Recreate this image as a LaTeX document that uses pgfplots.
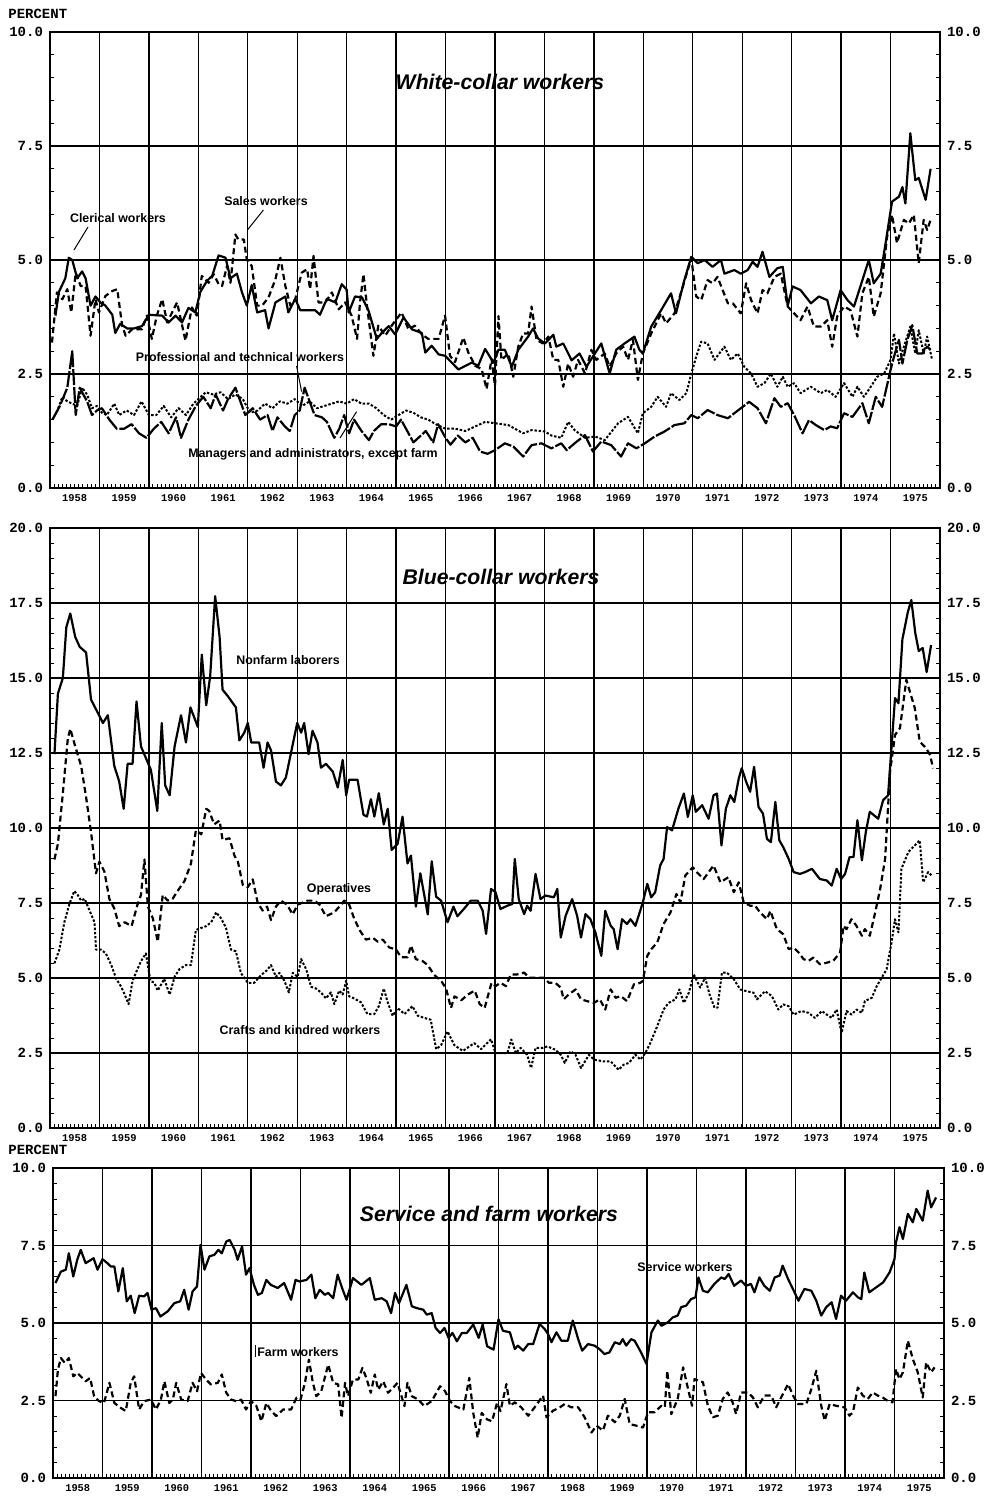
\documentclass[border=0pt]{standalone}
\usepackage{fontspec}
\setmainfont{Liberation Sans}
\setmonofont{Liberation Mono}
\usepackage{pgfplots}
\pgfplotsset{compat=1.18}
\pgfplotsset{
 panel/.style={
  scale only axis, width=445pt, anchor=north west,
  xmin=1958, xmax=1976, ymin=0,
  xtick={1959,1960,...,1975}, xticklabels={},
  minor xtick={1958,1958.0833333,...,1976},
  extra x ticks={1958.5,1959.5,1960.5,1961.5,1962.5,1963.5,1964.5,1965.5,1966.5,1967.5,1968.5,1969.5,1970.5,1971.5,1972.5,1973.5,1974.5,1975.5},
  extra x tick labels={1958,1959,1960,1961,1962,1963,1964,1965,1966,1967,1968,1969,1970,1971,1972,1973,1974,1975},
  extra x tick style={grid=none, major tick length=0pt, tick label style={font=\ttfamily\bfseries\fontsize{5.2}{6}\selectfont, yshift=0.5pt}},
  xmajorgrids, ymajorgrids,
  major grid style={line width=0.7pt, black},
  major tick length=0pt, minor tick length=2.2pt,
  minor tick style={line width=0.5pt, black},
  minor y tick num=4,
  xtick pos=left, ytick pos=left, tick align=inside,
  axis line style={line width=1pt},
  yticklabel style={font=\ttfamily\bfseries\fontsize{7}{8}\selectfont},
 },
 rpanel/.style={
  scale only axis, width=445pt, anchor=north west,
  xmin=1958, xmax=1976, ymin=0,
  hide x axis, axis y line*=right,
  major tick length=0pt, minor tick length=2.2pt,
  minor tick style={line width=0.5pt, black},
  minor y tick num=4, tick align=inside,
  axis line style={-, line width=1pt},
  yticklabel style={font=\ttfamily\bfseries\fontsize{7}{8}\selectfont},
 },
 sol/.style={black, line width=1.1pt, line join=round},
 dsh/.style={black, line width=1.1pt, dash pattern=on 3pt off 1.8pt, line join=round},
 dot/.style={black, line width=1pt, dash pattern=on 1.2pt off 0.9pt, line join=round},
 lds/.style={black, line width=1.1pt, dash pattern=on 8pt off 1pt, line join=round},
}
\begin{document}
\begin{tikzpicture}
\useasboundingbox (0pt,0pt) rectangle (494.5pt,-748pt);
% ---------------- Panel 1: White-collar ----------------
\begin{axis}[panel, at={(25pt,-16pt)}, height=228pt, ymax=10,
  ytick={0,2.5,5,7.5,10}, yticklabels={0.0,2.5,5.0,7.5,10.0}]
% Clerical
\addplot[sol] coordinates {(1958.11,3.78)(1958.18,4.3)(1958.31,4.6)(1958.38,5.05)(1958.45,5.0)(1958.55,4.6)(1958.65,4.75)(1958.72,4.6)(1958.82,4.0)(1958.92,4.2)(1959.02,4.07)(1959.12,4.0)(1959.26,3.8)(1959.32,3.4)(1959.42,3.6)(1959.56,3.5)(1959.7,3.5)(1959.86,3.55)(1960.0,3.8)(1960.27,3.78)(1960.40,3.63)(1960.54,3.78)(1960.67,3.63)(1960.80,3.95)(1960.94,3.85)(1961.04,4.3)(1961.18,4.55)(1961.28,4.65)(1961.41,5.1)(1961.55,5.05)(1961.65,4.6)(1961.78,4.7)(1961.88,4.3)(1961.98,4.0)(1962.08,4.45)(1962.19,3.85)(1962.35,3.9)(1962.42,3.5)(1962.56,4.07)(1962.76,4.2)(1962.82,3.85)(1962.96,4.15)(1963.06,3.9)(1963.2,3.9)(1963.36,3.9)(1963.46,3.8)(1963.60,4.15)(1963.77,4.07)(1963.90,4.47)(1964.00,4.35)(1964.04,3.85)(1964.17,4.2)(1964.31,4.18)(1964.44,3.9)(1964.61,3.27)(1964.71,3.4)(1964.85,3.55)(1964.98,3.37)(1965.15,3.74)(1965.32,3.48)(1965.52,3.4)(1965.59,2.97)(1965.72,3.12)(1965.86,2.93)(1965.99,2.9)(1966.26,2.6)(1966.53,2.75)(1966.66,2.68)(1966.80,3.05)(1966.97,2.75)(1967.07,3.03)(1967.2,3.03)(1967.34,2.66)(1967.47,3.03)(1967.67,3.32)(1967.77,3.5)(1967.87,3.28)(1968.01,3.17)(1968.18,3.36)(1968.24,3.1)(1968.38,3.17)(1968.55,2.8)(1968.71,2.95)(1968.85,2.66)(1969.02,2.95)(1969.15,3.17)(1969.32,2.51)(1969.45,3.03)(1969.62,3.17)(1969.82,3.32)(1969.92,3.03)(1969.99,2.95)(1970.16,3.54)(1970.36,3.9)(1970.56,4.27)(1970.66,3.83)(1970.83,4.56)(1970.97,5.07)(1971.10,4.93)(1971.24,5.0)(1971.40,4.85)(1971.57,5.0)(1971.64,4.7)(1971.84,4.78)(1971.97,4.7)(1972.11,4.78)(1972.21,4.96)(1972.31,4.85)(1972.41,5.18)(1972.55,4.63)(1972.71,4.82)(1972.82,4.85)(1972.92,4.0)(1973.02,4.42)(1973.18,4.34)(1973.39,4.05)(1973.55,4.2)(1973.72,4.12)(1973.82,3.68)(1973.99,4.34)(1974.13,4.12)(1974.26,3.98)(1974.39,4.42)(1974.56,5.0)(1974.66,4.49)(1974.80,4.7)(1974.90,5.37)(1975.03,6.28)(1975.17,6.39)(1975.24,6.6)(1975.30,6.24)(1975.40,7.78)(1975.50,6.75)(1975.57,6.8)(1975.71,6.32)(1975.81,7.0)};
% Sales
\addplot[dsh] coordinates {(1958.04,3.19)(1958.14,4.29)(1958.25,4.14)(1958.35,4.36)(1958.43,3.85)(1958.52,4.72)(1958.62,4.43)(1958.72,4.43)(1958.82,3.34)(1958.92,4.14)(1958.99,3.85)(1959.12,4.21)(1959.26,4.32)(1959.36,4.36)(1959.46,3.56)(1959.53,3.34)(1959.66,3.48)(1959.86,3.48)(1959.96,3.78)(1960.06,3.27)(1960.16,3.78)(1960.27,4.14)(1960.37,3.63)(1960.57,4.07)(1960.74,3.23)(1960.87,3.96)(1960.97,3.78)(1961.07,4.65)(1961.21,4.5)(1961.31,4.69)(1961.41,4.47)(1961.48,4.43)(1961.58,4.87)(1961.65,4.5)(1961.75,5.56)(1961.81,5.45)(1961.92,5.45)(1961.98,5.01)(1962.08,4.87)(1962.19,4.0)(1962.29,4.0)(1962.42,4.18)(1962.56,4.58)(1962.66,5.05)(1962.76,4.43)(1962.86,4.0)(1962.96,4.14)(1963.09,4.72)(1963.20,4.8)(1963.26,4.36)(1963.33,5.09)(1963.43,4.07)(1963.57,4.07)(1963.70,4.29)(1963.84,3.92)(1963.97,4.07)(1964.10,3.78)(1964.21,3.27)(1964.27,4.07)(1964.34,4.69)(1964.41,4.0)(1964.54,2.9)(1964.64,3.56)(1964.78,3.34)(1964.91,3.56)(1965.11,3.85)(1965.25,3.48)(1965.38,3.56)(1965.52,3.37)(1965.65,3.27)(1965.86,3.27)(1965.99,3.78)(1966.09,2.9)(1966.19,2.76)(1966.36,3.3)(1966.46,2.97)(1966.60,2.68)(1966.73,2.61)(1966.83,2.17)(1966.93,2.83)(1967.0,2.24)(1967.07,3.77)(1967.13,2.81)(1967.27,2.95)(1967.37,2.44)(1967.47,3.1)(1967.57,3.39)(1967.67,3.39)(1967.74,3.98)(1967.84,3.25)(1967.97,3.17)(1968.08,3.32)(1968.18,2.81)(1968.28,2.81)(1968.38,2.22)(1968.48,2.73)(1968.58,2.44)(1968.68,2.81)(1968.82,2.51)(1968.95,3.03)(1969.05,2.81)(1969.22,2.95)(1969.32,2.66)(1969.45,2.95)(1969.59,3.1)(1969.69,2.81)(1969.79,3.25)(1969.89,2.37)(1969.99,2.95)(1970.16,3.39)(1970.36,3.83)(1970.46,3.61)(1970.63,3.83)(1970.80,4.42)(1970.97,5.04)(1971.07,4.2)(1971.17,4.12)(1971.30,4.56)(1971.40,4.49)(1971.50,4.63)(1971.71,4.05)(1971.81,4.05)(1971.97,3.83)(1972.08,4.49)(1972.18,4.12)(1972.31,3.83)(1972.41,4.34)(1972.51,4.27)(1972.65,4.63)(1972.78,4.7)(1972.92,3.98)(1973.05,3.83)(1973.18,3.68)(1973.32,3.98)(1973.45,3.54)(1973.59,3.54)(1973.72,3.68)(1973.82,3.1)(1973.92,3.76)(1974.06,3.98)(1974.19,3.9)(1974.33,3.32)(1974.43,4.27)(1974.56,4.63)(1974.66,3.76)(1974.80,4.27)(1974.93,5.51)(1975.03,5.99)(1975.13,5.37)(1975.27,5.88)(1975.37,5.8)(1975.47,5.99)(1975.57,4.93)(1975.67,5.88)(1975.74,5.66)(1975.81,5.88)};
% Professional and technical
\addplot[dot] coordinates {(1958.05,1.5)(1958.15,1.7)(1958.25,2.0)(1958.35,1.9)(1958.55,1.8)(1958.65,2.2)(1958.75,2.05)(1958.85,1.75)(1958.95,1.8)(1959.05,1.65)(1959.15,1.6)(1959.3,1.85)(1959.4,1.6)(1959.55,1.7)(1959.7,1.6)(1959.85,1.9)(1960.0,1.6)(1960.15,1.6)(1960.3,1.8)(1960.45,1.55)(1960.6,1.75)(1960.75,1.6)(1960.9,1.85)(1961.0,1.95)(1961.15,2.1)(1961.3,2.05)(1961.45,2.1)(1961.6,1.95)(1961.75,2.05)(1961.9,1.95)(1962.05,1.65)(1962.2,1.7)(1962.35,1.85)(1962.5,1.75)(1962.65,1.9)(1962.8,1.85)(1962.95,1.95)(1963.1,1.8)(1963.25,1.9)(1963.4,1.75)(1963.55,1.8)(1963.7,1.85)(1963.85,1.9)(1964.0,1.85)(1964.15,1.95)(1964.3,1.85)(1964.45,1.85)(1964.6,1.75)(1964.75,1.6)(1964.9,1.5)(1965.05,1.6)(1965.2,1.7)(1965.35,1.65)(1965.5,1.55)(1965.65,1.5)(1965.8,1.4)(1966.0,1.3)(1966.2,1.3)(1966.4,1.25)(1966.6,1.35)(1966.8,1.45)(1967.0,1.42)(1967.27,1.38)(1967.57,1.2)(1967.74,1.27)(1968.01,1.24)(1968.14,1.15)(1968.34,1.1)(1968.48,1.45)(1968.61,1.27)(1968.82,1.1)(1969.02,1.13)(1969.22,1.05)(1969.49,1.42)(1969.69,1.56)(1969.89,1.2)(1969.99,1.64)(1970.16,1.78)(1970.29,2.0)(1970.46,1.78)(1970.56,2.08)(1970.73,1.93)(1970.87,2.08)(1970.97,2.51)(1971.07,2.88)(1971.17,3.21)(1971.30,3.17)(1971.44,2.81)(1971.64,3.1)(1971.77,2.81)(1971.91,2.95)(1972.04,2.66)(1972.18,2.51)(1972.31,2.22)(1972.45,2.3)(1972.58,2.51)(1972.71,2.22)(1972.82,2.44)(1972.92,2.22)(1973.05,2.3)(1973.18,2.08)(1973.39,2.22)(1973.59,2.08)(1973.72,2.15)(1973.89,2.0)(1974.06,2.3)(1974.23,2.0)(1974.33,2.22)(1974.46,2.0)(1974.60,2.22)(1974.73,2.44)(1974.87,2.51)(1975.0,2.81)(1975.07,3.39)(1975.17,2.73)(1975.27,3.1)(1975.40,3.54)(1975.50,2.95)(1975.57,3.46)(1975.67,2.95)(1975.74,3.32)(1975.84,2.81)};
% Managers and administrators
\addplot[lds] coordinates {(1958.05,1.5)(1958.2,1.8)(1958.35,2.2)(1958.45,3.0)(1958.52,1.6)(1958.6,2.2)(1958.75,1.9)(1958.85,1.6)(1958.95,1.7)(1959.05,1.75)(1959.2,1.5)(1959.35,1.3)(1959.5,1.3)(1959.65,1.4)(1959.8,1.2)(1959.95,1.1)(1960.1,1.3)(1960.25,1.45)(1960.4,1.2)(1960.55,1.55)(1960.65,1.1)(1960.8,1.5)(1960.95,1.8)(1961.1,2.0)(1961.25,1.75)(1961.35,2.05)(1961.5,1.7)(1961.6,1.95)(1961.75,2.2)(1961.85,1.9)(1961.95,1.6)(1962.1,1.75)(1962.25,1.5)(1962.4,1.6)(1962.5,1.25)(1962.6,1.55)(1962.75,1.35)(1962.85,1.25)(1962.95,1.6)(1963.05,1.7)(1963.15,2.2)(1963.25,1.9)(1963.35,1.6)(1963.5,1.55)(1963.6,1.45)(1963.75,1.1)(1963.85,1.3)(1963.95,1.6)(1964.05,1.2)(1964.15,1.5)(1964.3,1.25)(1964.45,1.05)(1964.55,1.25)(1964.7,1.4)(1964.85,1.4)(1965.0,1.35)(1965.1,1.5)(1965.2,1.3)(1965.35,1.0)(1965.5,1.15)(1965.6,1.25)(1965.75,1.0)(1965.85,1.4)(1966.0,1.1)(1966.1,0.95)(1966.25,1.15)(1966.4,1.0)(1966.55,1.1)(1966.7,0.8)(1966.85,0.75)(1967.0,0.83)(1967.2,0.98)(1967.37,0.91)(1967.57,0.69)(1967.74,0.94)(1967.94,0.98)(1968.14,0.87)(1968.34,0.98)(1968.45,0.83)(1968.61,0.98)(1968.82,1.16)(1968.98,0.8)(1969.15,1.02)(1969.35,0.94)(1969.55,0.69)(1969.69,0.98)(1969.86,0.87)(1970.03,0.98)(1970.23,1.13)(1970.43,1.24)(1970.63,1.38)(1970.83,1.42)(1970.97,1.6)(1971.10,1.53)(1971.30,1.71)(1971.50,1.6)(1971.71,1.53)(1971.84,1.64)(1972.01,1.78)(1972.14,1.89)(1972.31,1.75)(1972.48,1.42)(1972.65,1.97)(1972.78,1.78)(1972.92,1.86)(1973.05,1.6)(1973.22,1.2)(1973.35,1.49)(1973.49,1.38)(1973.66,1.27)(1973.79,1.35)(1973.92,1.31)(1974.06,1.64)(1974.23,1.56)(1974.33,1.71)(1974.43,1.86)(1974.56,1.42)(1974.70,2.0)(1974.83,1.78)(1975.0,2.59)(1975.07,2.88)(1975.17,3.25)(1975.24,2.73)(1975.34,3.25)(1975.44,3.57)(1975.54,2.95)(1975.64,2.95)(1975.74,3.1)(1975.81,3.03)};
\end{axis}
\begin{axis}[rpanel, at={(25pt,-16pt)}, height=228pt, ymax=10,
  ytick={0,2.5,5,7.5,10}, yticklabels={0.0,2.5,5.0,7.5,10.0}]
\end{axis}
% ---------------- Panel 2: Blue-collar ----------------
\begin{axis}[panel, at={(25pt,-264pt)}, height=300pt, ymax=20,
  ytick={0,2.5,...,20}, yticklabels={0.0,2.5,5.0,7.5,10.0,12.5,15.0,17.5,20.0}]
% Nonfarm laborers
\addplot[sol] coordinates {(1958.09,12.46)(1958.16,14.48)(1958.26,15.0)(1958.33,16.69)(1958.41,17.15)(1958.51,16.37)(1958.60,16.04)(1958.73,15.85)(1958.83,14.28)(1958.97,13.83)(1959.07,13.5)(1959.17,13.76)(1959.30,12.07)(1959.40,11.55)(1959.49,10.64)(1959.57,12.14)(1959.67,12.14)(1959.75,14.22)(1959.84,12.72)(1959.94,12.33)(1960.04,11.94)(1960.17,10.57)(1960.26,13.5)(1960.33,11.42)(1960.42,11.09)(1960.52,12.72)(1960.65,13.76)(1960.75,12.85)(1960.84,14.02)(1960.99,13.37)(1961.07,15.78)(1961.16,14.09)(1961.24,15.07)(1961.34,17.73)(1961.43,16.37)(1961.49,14.61)(1961.59,14.41)(1961.76,14.02)(1961.83,12.92)(1961.93,13.18)(1962.00,13.5)(1962.07,12.85)(1962.23,12.85)(1962.32,12.01)(1962.40,12.85)(1962.47,12.59)(1962.57,11.55)(1962.67,11.42)(1962.77,11.68)(1962.91,12.79)(1963.00,13.5)(1963.08,13.18)(1963.14,13.5)(1963.23,12.46)(1963.31,13.24)(1963.41,12.85)(1963.48,12.01)(1963.58,12.14)(1963.72,11.88)(1963.82,11.35)(1963.92,12.27)(1963.99,11.09)(1964.05,11.61)(1964.22,11.61)(1964.34,10.44)(1964.41,10.38)(1964.49,10.96)(1964.56,10.38)(1964.65,11.16)(1964.75,10.12)(1964.83,10.64)(1964.91,9.27)(1965.03,9.47)(1965.13,10.38)(1965.23,8.82)(1965.30,9.08)(1965.40,7.38)(1965.49,8.49)(1965.64,7.12)(1965.72,8.89)(1965.81,7.71)(1965.91,7.58)(1966.04,6.86)(1966.16,7.38)(1966.24,7.06)(1966.38,7.32)(1966.51,7.58)(1966.65,7.58)(1966.75,7.25)(1966.82,6.47)(1966.92,7.97)(1967.01,7.86)(1967.11,7.3)(1967.25,7.41)(1967.35,7.47)(1967.40,8.97)(1967.48,7.63)(1967.59,7.13)(1967.65,7.41)(1967.72,7.24)(1967.82,8.47)(1967.92,7.63)(1968.02,7.75)(1968.19,7.69)(1968.26,7.97)(1968.33,6.35)(1968.43,7.08)(1968.56,7.63)(1968.66,7.08)(1968.74,6.35)(1968.83,7.13)(1968.93,6.96)(1969.03,6.52)(1969.15,5.74)(1969.23,7.24)(1969.34,6.74)(1969.40,6.63)(1969.48,5.96)(1969.57,6.96)(1969.67,6.8)(1969.74,6.96)(1969.84,6.74)(1969.99,7.52)(1970.08,8.14)(1970.16,7.69)(1970.24,7.86)(1970.34,8.75)(1970.41,8.97)(1970.48,10.03)(1970.58,9.92)(1970.71,10.65)(1970.82,11.15)(1970.90,10.37)(1971.00,11.09)(1971.06,10.54)(1971.19,10.76)(1971.32,10.31)(1971.42,11.09)(1971.49,11.15)(1971.58,9.42)(1971.67,10.65)(1971.76,11.09)(1971.84,10.87)(1971.93,11.65)(1971.99,11.99)(1972.08,11.54)(1972.16,11.21)(1972.24,12.04)(1972.33,10.7)(1972.42,10.48)(1972.50,9.64)(1972.58,9.53)(1972.67,10.87)(1972.75,9.59)(1972.83,9.36)(1972.94,8.97)(1973.04,8.53)(1973.17,8.47)(1973.27,8.53)(1973.41,8.64)(1973.57,8.3)(1973.71,8.25)(1973.81,8.08)(1973.91,8.64)(1974.00,8.3)(1974.08,8.47)(1974.17,9.03)(1974.25,9.03)(1974.33,10.26)(1974.42,8.92)(1974.50,9.87)(1974.58,10.54)(1974.75,10.31)(1974.85,10.93)(1974.95,11.09)(1975.09,14.33)(1975.16,14.16)(1975.24,16.3)(1975.35,17.2)(1975.42,17.6)(1975.50,16.5)(1975.57,15.9)(1975.65,16.0)(1975.73,15.2)(1975.82,16.1)};
% Operatives
\addplot[dsh] coordinates {(1958.09,8.95)(1958.16,9.47)(1958.26,11.16)(1958.36,12.98)(1958.41,13.31)(1958.51,12.72)(1958.63,12.07)(1958.73,11.03)(1958.83,9.86)(1958.93,8.49)(1959.0,8.88)(1959.10,8.55)(1959.20,7.64)(1959.30,7.32)(1959.40,6.73)(1959.51,6.86)(1959.65,6.73)(1959.77,7.45)(1959.84,7.77)(1959.91,8.95)(1959.98,7.38)(1960.08,6.99)(1960.18,6.21)(1960.28,7.77)(1960.38,7.58)(1960.48,7.64)(1960.58,7.9)(1960.72,8.23)(1960.85,8.81)(1960.95,9.92)(1961.06,9.79)(1961.16,10.64)(1961.22,10.57)(1961.32,10.12)(1961.43,10.25)(1961.49,9.6)(1961.63,9.66)(1961.73,9.08)(1961.80,8.88)(1961.90,8.1)(1962.0,8.03)(1962.10,8.29)(1962.20,7.51)(1962.30,7.25)(1962.39,7.38)(1962.47,6.93)(1962.57,7.38)(1962.67,7.58)(1962.79,7.45)(1962.91,7.12)(1963.01,7.45)(1963.11,7.51)(1963.21,7.58)(1963.35,7.58)(1963.45,7.45)(1963.58,7.06)(1963.75,7.19)(1963.89,7.45)(1963.95,7.58)(1964.05,7.45)(1964.15,6.99)(1964.26,6.6)(1964.39,6.28)(1964.53,6.34)(1964.63,6.21)(1964.73,6.28)(1964.86,6.02)(1965.0,5.95)(1965.10,5.69)(1965.23,5.69)(1965.30,6.08)(1965.40,5.63)(1965.54,5.56)(1965.64,5.43)(1965.77,5.1)(1965.91,4.91)(1966.01,4.65)(1966.11,4.0)(1966.18,4.39)(1966.32,4.26)(1966.45,4.45)(1966.59,4.58)(1966.69,4.13)(1966.79,4.0)(1966.93,4.84)(1967.01,4.73)(1967.11,4.84)(1967.22,4.73)(1967.32,5.12)(1967.45,5.12)(1967.59,5.18)(1967.69,5.01)(1967.85,5.01)(1967.99,5.01)(1968.09,4.84)(1968.22,4.84)(1968.33,4.68)(1968.39,4.29)(1968.49,4.45)(1968.63,4.62)(1968.74,4.29)(1968.86,4.23)(1969.0,4.17)(1969.12,4.29)(1969.23,3.95)(1969.34,4.62)(1969.44,4.34)(1969.54,4.4)(1969.67,4.23)(1969.81,4.79)(1969.94,4.84)(1969.99,4.9)(1970.08,5.74)(1970.16,5.96)(1970.28,6.18)(1970.41,6.8)(1970.55,7.19)(1970.67,7.8)(1970.75,7.52)(1970.85,8.42)(1971.0,8.69)(1971.08,8.53)(1971.22,8.3)(1971.42,8.75)(1971.56,8.19)(1971.72,8.36)(1971.83,7.86)(1971.93,8.19)(1972.03,7.52)(1972.16,7.41)(1972.26,7.41)(1972.36,7.19)(1972.50,6.96)(1972.57,7.24)(1972.70,6.63)(1972.83,6.46)(1972.94,5.96)(1973.04,6.02)(1973.14,5.85)(1973.24,5.63)(1973.34,5.57)(1973.44,5.68)(1973.57,5.46)(1973.71,5.51)(1973.84,5.57)(1973.98,5.85)(1974.05,6.74)(1974.11,6.63)(1974.21,6.96)(1974.31,6.74)(1974.42,6.41)(1974.48,6.63)(1974.58,6.41)(1974.69,7.19)(1974.79,7.97)(1974.89,8.97)(1974.99,11.88)(1975.09,13.1)(1975.19,13.33)(1975.32,14.94)(1975.39,14.55)(1975.49,14.0)(1975.59,12.88)(1975.72,12.66)(1975.80,12.43)(1975.86,11.99)};
% Crafts and kindred
\addplot[dot] coordinates {(1958.09,5.49)(1958.19,5.95)(1958.29,6.86)(1958.39,7.45)(1958.49,7.9)(1958.56,7.77)(1958.63,7.58)(1958.70,7.64)(1958.80,7.25)(1958.90,6.86)(1958.93,5.95)(1959.03,5.95)(1959.13,5.82)(1959.24,5.43)(1959.34,4.97)(1959.44,4.71)(1959.51,4.45)(1959.59,4.13)(1959.67,4.91)(1959.77,5.3)(1959.84,5.56)(1959.94,5.82)(1960.03,4.91)(1960.11,4.84)(1960.18,4.58)(1960.31,4.97)(1960.42,4.45)(1960.52,5.04)(1960.62,5.3)(1960.75,5.43)(1960.85,5.43)(1960.95,6.6)(1961.06,6.67)(1961.16,6.73)(1961.26,6.86)(1961.36,7.19)(1961.46,6.99)(1961.56,6.67)(1961.66,5.95)(1961.76,5.89)(1961.86,5.17)(1962.0,4.84)(1962.13,4.84)(1962.27,5.1)(1962.37,5.23)(1962.47,5.43)(1962.57,5.04)(1962.64,5.17)(1962.74,4.91)(1962.83,4.52)(1962.91,5.17)(1963.01,5.04)(1963.08,5.63)(1963.18,5.3)(1963.28,4.71)(1963.38,4.65)(1963.48,4.52)(1963.58,4.32)(1963.68,4.52)(1963.75,4.13)(1963.85,4.58)(1963.92,4.45)(1963.99,4.91)(1964.05,4.39)(1964.15,4.32)(1964.29,4.19)(1964.42,3.8)(1964.56,3.8)(1964.65,4.06)(1964.75,4.65)(1964.83,4.19)(1964.93,3.74)(1965.03,4.0)(1965.17,3.8)(1965.33,4.06)(1965.44,3.74)(1965.57,3.67)(1965.70,3.61)(1965.81,2.63)(1965.91,2.76)(1966.04,3.22)(1966.18,2.76)(1966.35,2.57)(1966.58,2.83)(1966.72,2.63)(1966.92,2.96)(1967.01,2.5)(1967.11,2.5)(1967.25,2.5)(1967.33,2.95)(1967.42,2.5)(1967.52,2.67)(1967.65,2.44)(1967.73,2.0)(1967.82,2.67)(1967.96,2.67)(1968.06,2.72)(1968.22,2.61)(1968.33,2.44)(1968.41,2.17)(1968.53,2.56)(1968.63,2.44)(1968.74,2.0)(1968.90,2.44)(1969.0,2.28)(1969.20,2.22)(1969.34,2.22)(1969.50,1.94)(1969.60,2.11)(1969.71,2.17)(1969.84,2.44)(1969.94,2.28)(1970.04,2.5)(1970.14,2.83)(1970.28,3.39)(1970.41,3.95)(1970.51,4.17)(1970.65,4.29)(1970.73,4.62)(1970.82,4.17)(1970.92,4.51)(1971.02,5.12)(1971.15,4.68)(1971.25,5.01)(1971.34,4.45)(1971.44,4.01)(1971.50,4.01)(1971.59,5.18)(1971.69,5.18)(1971.83,4.96)(1971.96,4.62)(1972.09,4.56)(1972.23,4.51)(1972.30,4.29)(1972.46,4.56)(1972.60,4.4)(1972.73,3.95)(1972.83,4.12)(1972.94,4.06)(1973.04,3.78)(1973.20,3.9)(1973.34,3.84)(1973.47,3.67)(1973.61,3.9)(1973.71,3.78)(1973.81,3.67)(1973.91,3.95)(1974.01,3.17)(1974.11,3.9)(1974.21,3.78)(1974.31,3.95)(1974.42,3.84)(1974.48,4.23)(1974.62,4.34)(1974.72,4.73)(1974.82,5.01)(1974.92,5.29)(1975.02,6.18)(1975.09,6.96)(1975.16,6.52)(1975.22,8.64)(1975.36,9.2)(1975.49,9.42)(1975.59,9.59)(1975.66,8.19)(1975.76,8.53)(1975.83,8.42)};
\end{axis}
\begin{axis}[rpanel, at={(25pt,-264pt)}, height=300pt, ymax=20,
  ytick={0,2.5,...,20}, yticklabels={0.0,2.5,5.0,7.5,10.0,12.5,15.0,17.5,20.0}]
\end{axis}
% ---------------- Panel 3: Service and farm ----------------
\begin{axis}[panel, at={(26.5pt,-584pt)}, width=445.5pt, height=155pt, ymax=10,
  ytick={0,2.5,5,7.5,10}, yticklabels={0.0,2.5,5.0,7.5,10.0}]
% Service workers
\addplot[sol] coordinates {(1958.05,6.29)(1958.16,6.66)(1958.26,6.72)(1958.32,7.25)(1958.41,6.5)(1958.49,7.04)(1958.56,7.36)(1958.66,6.93)(1958.82,7.09)(1958.90,6.72)(1959.0,7.06)(1959.10,6.93)(1959.17,6.82)(1959.24,6.82)(1959.32,6.02)(1959.41,6.77)(1959.49,5.7)(1959.57,5.88)(1959.65,5.32)(1959.74,5.88)(1959.84,5.86)(1959.91,5.97)(1959.99,5.43)(1960.08,5.48)(1960.17,5.21)(1960.32,5.38)(1960.45,5.64)(1960.57,5.7)(1960.65,6.07)(1960.74,5.43)(1960.82,6.02)(1960.91,6.18)(1960.98,7.52)(1961.06,6.72)(1961.16,7.15)(1961.26,7.2)(1961.34,7.36)(1961.41,7.25)(1961.50,7.63)(1961.57,7.68)(1961.67,7.36)(1961.73,7.04)(1961.82,7.47)(1961.90,6.56)(1961.97,6.77)(1962.06,6.23)(1962.14,5.91)(1962.22,5.97)(1962.31,6.39)(1962.40,6.23)(1962.54,6.13)(1962.67,6.29)(1962.81,5.75)(1962.90,6.39)(1962.98,6.34)(1963.12,6.39)(1963.22,6.56)(1963.30,5.8)(1963.39,6.07)(1963.49,5.91)(1963.56,5.97)(1963.66,5.8)(1963.75,6.56)(1963.84,6.13)(1963.93,5.75)(1964.06,6.45)(1964.23,6.23)(1964.40,6.45)(1964.50,5.75)(1964.64,5.8)(1964.74,5.7)(1964.83,5.32)(1964.91,5.97)(1964.99,5.64)(1965.14,6.23)(1965.25,5.54)(1965.35,5.48)(1965.48,5.43)(1965.55,5.27)(1965.65,5.32)(1965.73,4.84)(1965.82,4.68)(1965.91,4.84)(1965.99,4.52)(1966.07,4.68)(1966.16,4.41)(1966.26,4.68)(1966.36,4.68)(1966.49,4.95)(1966.60,4.52)(1966.68,4.95)(1966.77,4.25)(1966.90,4.14)(1967.0,5.12)(1967.09,4.75)(1967.23,4.7)(1967.33,4.16)(1967.39,4.27)(1967.50,4.11)(1967.60,4.32)(1967.70,4.32)(1967.83,4.97)(1967.93,4.81)(1968.0,4.65)(1968.07,4.38)(1968.17,4.7)(1968.27,4.43)(1968.40,4.43)(1968.50,5.08)(1968.61,4.48)(1968.69,4.11)(1968.81,4.32)(1968.94,4.27)(1969.04,4.16)(1969.14,4.0)(1969.24,4.05)(1969.35,4.38)(1969.45,4.32)(1969.51,4.48)(1969.58,4.27)(1969.68,4.48)(1969.75,4.43)(1969.88,4.05)(1969.99,3.68)(1970.09,4.7)(1970.22,5.08)(1970.29,4.91)(1970.42,5.02)(1970.52,5.18)(1970.62,5.24)(1970.69,5.51)(1970.79,5.56)(1970.89,5.77)(1970.98,5.83)(1971.04,6.47)(1971.13,6.04)(1971.23,5.99)(1971.36,6.26)(1971.50,6.47)(1971.57,6.42)(1971.65,6.58)(1971.76,6.2)(1971.90,6.37)(1972.0,6.2)(1972.10,6.26)(1972.17,5.99)(1972.27,6.47)(1972.37,6.2)(1972.48,6.04)(1972.58,6.47)(1972.68,6.53)(1972.74,6.85)(1972.85,6.42)(1972.98,5.99)(1973.06,5.72)(1973.18,6.1)(1973.32,6.04)(1973.42,5.72)(1973.52,5.24)(1973.62,5.51)(1973.73,5.67)(1973.82,5.13)(1973.92,5.88)(1974.02,5.72)(1974.16,5.99)(1974.26,5.83)(1974.33,5.77)(1974.39,6.63)(1974.49,5.99)(1974.63,6.15)(1974.77,6.31)(1974.90,6.63)(1975.0,7.06)(1975.03,7.6)(1975.10,8.09)(1975.17,7.71)(1975.27,8.52)(1975.37,8.25)(1975.44,8.68)(1975.57,8.3)(1975.67,9.27)(1975.74,8.73)(1975.84,9.05)};
% Farm workers
\addplot[dsh] coordinates {(1958.05,2.64)(1958.10,3.5)(1958.16,3.87)(1958.24,3.71)(1958.32,3.87)(1958.41,3.28)(1958.49,3.39)(1958.59,3.23)(1958.66,3.12)(1958.75,3.23)(1958.83,2.64)(1958.93,2.48)(1959.03,2.42)(1959.14,3.07)(1959.24,2.42)(1959.37,2.26)(1959.47,2.16)(1959.57,3.07)(1959.64,3.28)(1959.74,2.21)(1959.84,2.48)(1959.98,2.53)(1960.08,2.21)(1960.18,2.53)(1960.25,3.12)(1960.35,2.42)(1960.42,2.53)(1960.49,3.07)(1960.59,2.53)(1960.72,2.48)(1960.82,3.07)(1960.91,2.8)(1960.99,3.39)(1961.09,3.18)(1961.19,3.02)(1961.33,3.07)(1961.41,3.34)(1961.50,2.75)(1961.60,2.53)(1961.70,2.48)(1961.80,2.53)(1961.90,2.21)(1962.0,2.48)(1962.11,2.32)(1962.21,1.83)(1962.31,2.42)(1962.41,2.16)(1962.51,2.0)(1962.65,2.21)(1962.81,2.21)(1962.92,2.59)(1963.0,2.53)(1963.09,3.07)(1963.17,3.82)(1963.25,3.07)(1963.32,2.64)(1963.42,2.8)(1963.56,3.66)(1963.66,3.07)(1963.76,3.02)(1963.83,1.94)(1963.90,3.07)(1963.96,2.64)(1964.06,3.18)(1964.17,3.18)(1964.25,3.55)(1964.33,3.23)(1964.42,2.75)(1964.50,3.34)(1964.57,2.85)(1964.67,3.12)(1964.77,2.75)(1964.87,2.91)(1964.96,3.07)(1965.04,2.64)(1965.10,2.32)(1965.16,3.07)(1965.25,2.64)(1965.38,2.53)(1965.50,2.32)(1965.65,2.48)(1965.82,2.96)(1965.92,2.8)(1966.02,2.48)(1966.12,2.32)(1966.29,2.21)(1966.41,3.23)(1966.49,2.1)(1966.58,1.3)(1966.66,2.1)(1966.77,1.89)(1966.87,1.83)(1966.97,2.42)(1967.04,2.16)(1967.16,3.03)(1967.23,2.33)(1967.33,2.44)(1967.46,2.28)(1967.60,2.01)(1967.73,2.28)(1967.90,2.66)(1967.97,1.96)(1968.10,2.17)(1968.24,2.28)(1968.34,2.39)(1968.47,2.28)(1968.61,2.28)(1968.74,1.96)(1968.88,1.47)(1968.98,1.69)(1969.11,1.53)(1969.21,2.01)(1969.35,1.8)(1969.45,2.01)(1969.55,2.55)(1969.65,1.74)(1969.78,1.69)(1969.92,1.63)(1970.02,2.12)(1970.15,2.12)(1970.29,2.33)(1970.36,2.28)(1970.41,3.46)(1970.49,2.06)(1970.62,2.55)(1970.73,3.57)(1970.83,2.87)(1970.91,2.33)(1970.96,3.19)(1971.13,3.09)(1971.23,2.33)(1971.33,1.96)(1971.43,2.01)(1971.53,2.55)(1971.63,2.76)(1971.73,2.44)(1971.80,2.06)(1971.90,2.76)(1972.04,2.76)(1972.14,2.6)(1972.24,2.28)(1972.37,2.66)(1972.51,2.66)(1972.61,2.28)(1972.71,2.6)(1972.85,3.03)(1972.95,2.66)(1973.05,2.39)(1973.22,2.39)(1973.32,2.87)(1973.42,3.46)(1973.52,2.33)(1973.59,1.85)(1973.69,2.39)(1973.82,2.33)(1973.99,2.28)(1974.09,2.01)(1974.16,2.12)(1974.26,2.92)(1974.36,2.66)(1974.46,2.55)(1974.56,2.76)(1974.66,2.66)(1974.76,2.6)(1974.86,2.49)(1974.96,2.44)(1975.03,3.52)(1975.10,3.19)(1975.17,3.41)(1975.27,4.43)(1975.37,3.84)(1975.47,3.41)(1975.57,2.6)(1975.64,3.73)(1975.74,3.41)(1975.81,3.57)};
\end{axis}
\begin{axis}[rpanel, at={(26.5pt,-584pt)}, width=445.5pt, height=155pt, ymax=10,
  ytick={0,2.5,5,7.5,10}, yticklabels={0.0,2.5,5.0,7.5,10.0}]
\end{axis}
% ---------------- Texts ----------------
\node[anchor=west, font=\ttfamily\bfseries\fontsize{7}{8}\selectfont, inner sep=0pt] at (4pt,-7pt) {PERCENT};
\node[anchor=west, font=\ttfamily\bfseries\fontsize{7}{8}\selectfont, inner sep=0pt] at (4pt,-575pt) {PERCENT};
\node[font=\bfseries\itshape\fontsize{10.6}{12}\selectfont] at (250pt,-41pt) {White-collar workers};
\node[font=\bfseries\itshape\fontsize{10.6}{12}\selectfont] at (250.5pt,-288.5pt) {Blue-collar workers};
\node[font=\bfseries\itshape\fontsize{10.6}{12}\selectfont] at (244.5pt,-607pt) {Service and farm workers};
\tikzset{lab/.style={font=\bfseries\fontsize{6.2}{7}\selectfont, inner sep=0pt}}
\node[lab] at (59pt,-109pt) {Clerical workers};
\draw[line width=0.5pt] (44pt,-113.5pt) -- (37pt,-125pt);
\node[lab] at (133pt,-100.5pt) {Sales workers};
\draw[line width=0.5pt] (131.7pt,-105pt) -- (123.7pt,-115pt);
\node[lab] at (120pt,-178.5pt) {Professional and technical workers};
\draw[line width=0.5pt] (148.3pt,-183pt) -- (150.8pt,-195.8pt);
\node[lab] at (156.5pt,-227pt) {Managers and administrators, except farm};
\draw[line width=0.5pt] (170pt,-219pt) -- (178.3pt,-205.8pt);
\node[lab] at (144pt,-330pt) {Nonfarm laborers};
\node[lab] at (169.5pt,-444.5pt) {Operatives};
\node[lab] at (150pt,-515pt) {Crafts and kindred workers};
\node[lab] at (342.5pt,-633.5pt) {Service workers};
\node[lab] at (149pt,-676pt) {Farm workers};
\draw[line width=0.5pt] (127.5pt,-672.5pt) -- (127.5pt,-678.3pt);
\end{tikzpicture}
\end{document}
